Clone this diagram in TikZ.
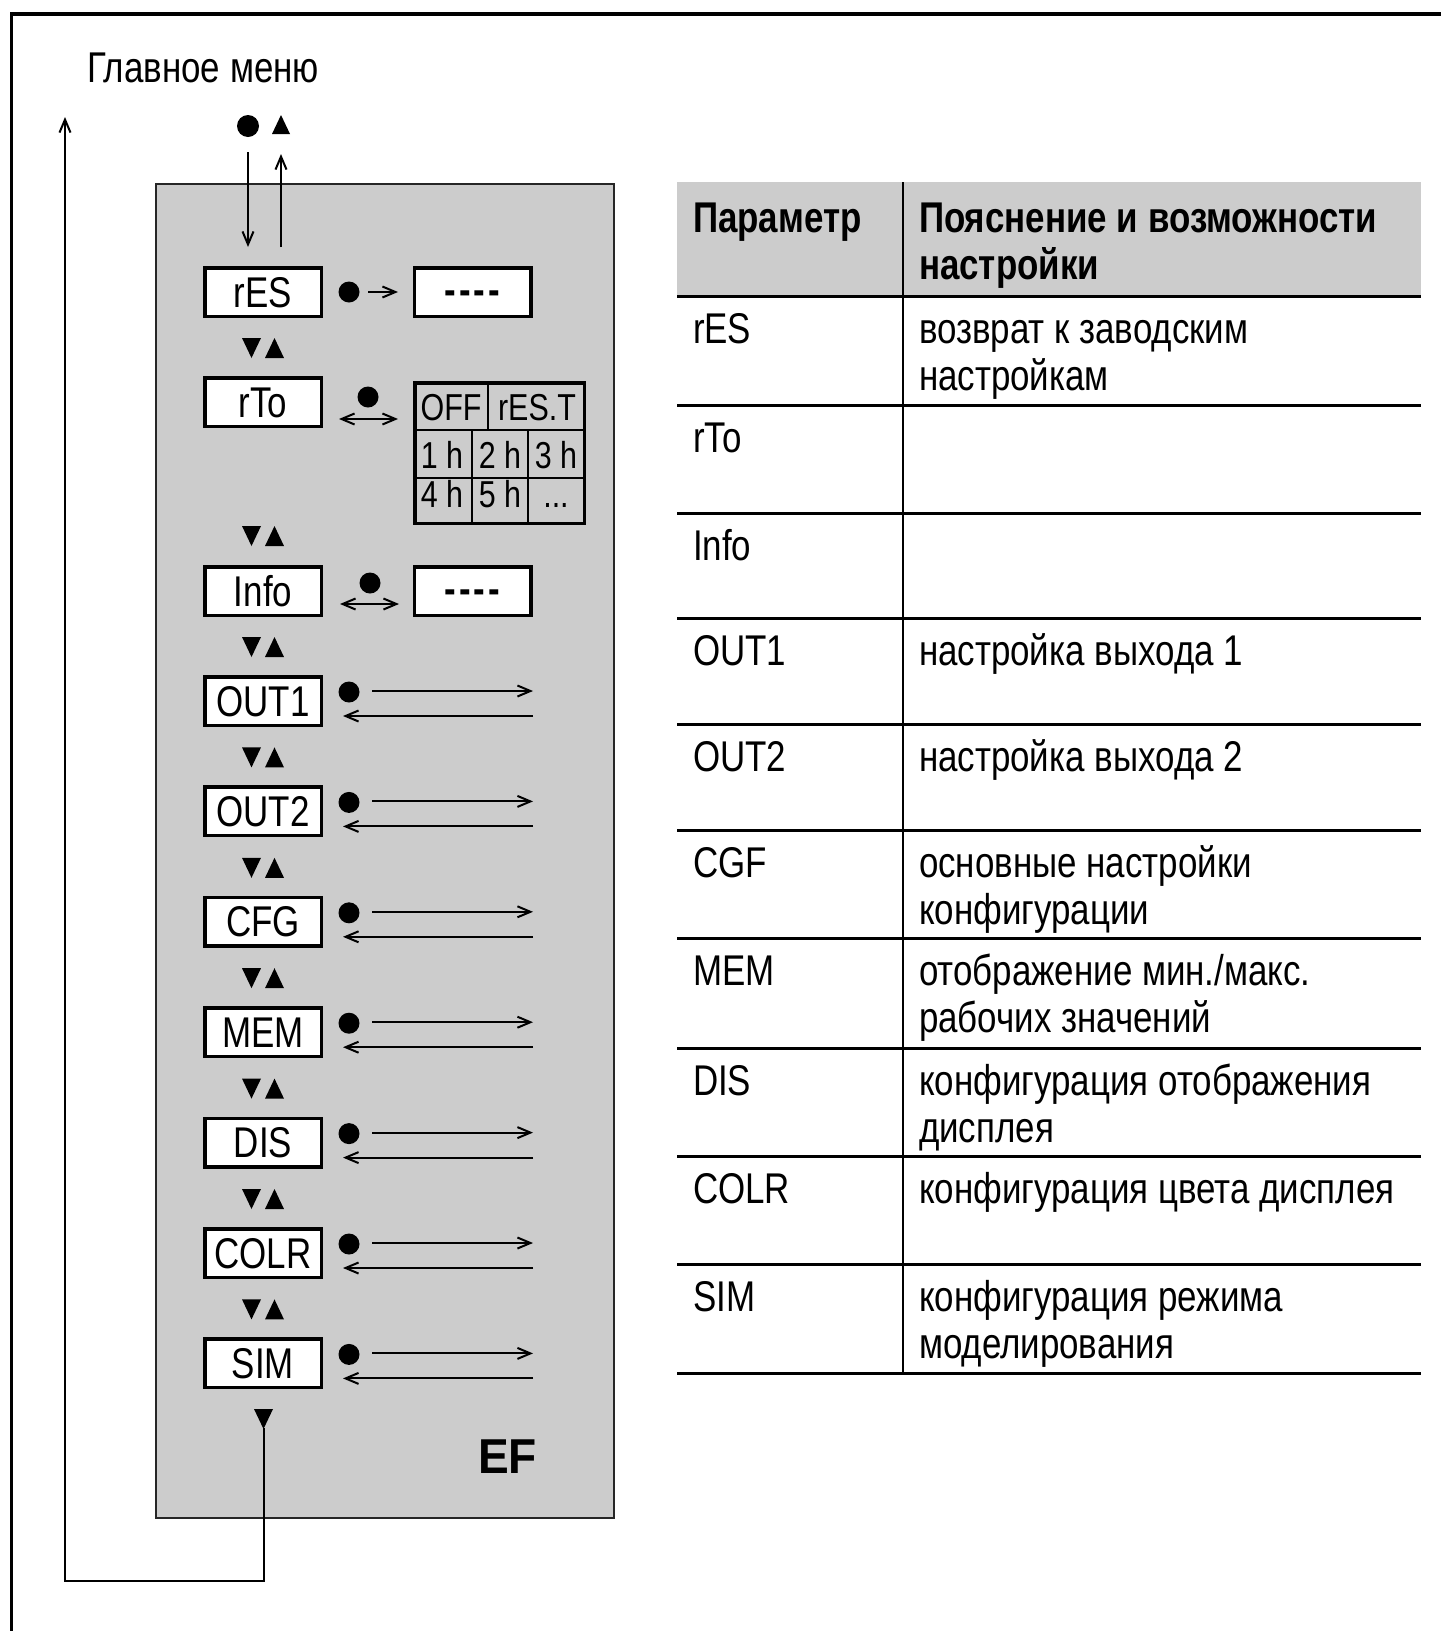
\documentclass[tikz,border=0pt]{standalone}
\usepackage{fontspec}
\setmainfont{Liberation Sans}[FakeStretch=0.812]
\newfontfamily\efFont{Liberation Sans}[FakeStretch=0.94]
\usetikzlibrary{arrows.meta}
\definecolor{panelgrey}{RGB}{204,204,204}
\definecolor{hdrgrey}{RGB}{204,204,204}
\newcommand\szA{\fontsize{43}{47}\selectfont}
\newcommand\szB{\fontsize{37.5}{40}\selectfont}
\newcommand\szC{\fontsize{43}{47}\selectfont}
\newcommand\tripair[1]{%
  \fill (242,#1) -- (261,#1) -- (251.5,#1+20) -- cycle;
  \fill (265,#1+20) -- (284,#1+20) -- (274.5,#1) -- cycle;}
\newcommand\fourdash{\raisebox{2.5pt}{-\kern3pt-\kern3pt-\kern3pt-}}
\begin{document}
\begin{tikzpicture}[x=1pt,y=-1pt,
  txt/.style={inner sep=0pt, outer sep=0pt, font=\szA, anchor=base west},
  pbox/.style={draw=black, fill=white, line width=3.5pt, minimum width=116.5pt, minimum height=48.5pt, inner sep=0pt, font=\szA, text height=30pt, text depth=0pt},
  cell/.style={inner sep=0pt, font=\szB, anchor=base},
  arr/.style={line width=2pt, -{Straight Barb[length=13pt,width=11pt]}},
  darr/.style={line width=2pt, {Straight Barb[length=13pt,width=11pt]}-{Straight Barb[length=13pt,width=11pt]}},
  loopline/.style={line width=2pt},
  tline/.style={line width=3pt},
]
\useasboundingbox (0,0) rectangle (1441,1631);
% outer frame
\draw[line width=3.5pt] (11.5,1631) -- (11.5,14) -- (1441,14);
% title
\node[txt, font=\szC] (mm) at (87,82) {Главное меню};
% grey panel
\draw[fill=panelgrey, draw=black!85, line width=1.5pt] (156,184) rectangle (614,1518);
% top symbols and arrows
\fill (248,126) circle (11);
\fill (272,134) -- (290,134) -- (281,115) -- cycle;
\coordinate (tdA) at (248,152);
\coordinate (tdB) at (248,247);
\coordinate (tuA) at (281,247);
\coordinate (tuB) at (281,154);
\draw[arr] (tdA) -- (tdB);
\draw[arr] (tuA) -- (tuB);
% rES row
\node[pbox] (res) at (263,292) {rES};
\fill (349,292) circle (10.5);
\node[pbox, font=\szA\bfseries] (resv) at (472.5,292) {\fourdash};
\coordinate (resA) at (368,292);
\coordinate (resB) at (398,292);
\draw[arr] (resA) -- (resB);
\tripair{338}
% rTo row
\node[pbox] (rto) at (263,402) {rTo};
\fill (368,397) circle (10.5);
\coordinate (rtoA) at (339,419);
\coordinate (rtoB) at (398,419);
\draw[darr] (rtoA) -- (rtoB);
\draw[line width=3.5pt] (414.75,382.75) rectangle (584.25,523.25);
\draw[line width=2pt] (413,430) -- (586,430) (413,478) -- (586,478)
  (488,381) -- (488,430) (472,430) -- (472,525) (528,430) -- (528,525);
\node[cell] (cOFF) at (451,420) {OFF};
\node[cell] (cRES) at (537,420) {rES.T};
\node[cell] (c1) at (442,468) {1 h};
\node[cell] (c2) at (500,468) {2 h};
\node[cell] (c3) at (556,468) {3 h};
\node[cell] (c4) at (442,507) {4 h};
\node[cell] (c5) at (500,507) {5 h};
\node[cell] (c6) at (556,507) {...};
\tripair{526}
% Info row
\node[pbox] (info) at (263,591) {Info};
\fill (370,583) circle (10.5);
\coordinate (infA) at (340,604);
\coordinate (infB) at (399,604);
\draw[darr] (infA) -- (infB);
\node[pbox, font=\szA\bfseries] (infov) at (472.5,591) {\fourdash};
% output rows
\foreach \nm/\lb/\t in {out1/OUT1/675, out2/OUT2/785.4, cfg/CFG/895.8, mem/MEM/1006.2, dis/DIS/1116.6, colr/COLR/1227, sim/SIM/1337.4}{
  \tripair{\t-38}
  \node[pbox] (\nm) at (263,\t+26) {\lb};
  \fill (349,\t+17) circle (10.5);
  \coordinate (\nm a) at (372,\t+16);
  \coordinate (\nm b) at (533,\t+16);
  \coordinate (\nm c) at (533,\t+41);
  \coordinate (\nm d) at (343,\t+41);
  \draw[arr] (\nm a) -- (\nm b);
  \draw[arr] (\nm c) -- (\nm d);
}
% bottom triangle and return loop
\fill (254,1409) -- (273,1409) -- (263.5,1429) -- cycle;
\coordinate (loopA) at (263.5,1428);
\coordinate (loopB) at (263.5,1581);
\coordinate (loopC) at (65,1581);
\coordinate (loopD) at (65,117);
\draw[loopline, -{Straight Barb[length=13pt,width=11pt]}] (loopA) -- (loopB) -- (loopC) -- (loopD);
% EF
\node[txt, font=\efFont\bfseries\fontsize{49}{52}\selectfont] (ef) at (478,1473) {EF};
% table
\fill[hdrgrey] (677,182) rectangle (1421,296);
\foreach \yy in {296,405,513,618,724,830,938,1048,1156,1264,1373}
  \draw[tline] (677,\yy) -- (1421,\yy);
\draw[line width=2.5pt] (903,182) -- (903,1373);
\node[txt, font=\szA\bfseries] (h1) at (693,232) {Параметр};
\node[txt, font=\szA\bfseries] (h2) at (919,232) {Пояснение и возможности};
\node[txt, font=\szA\bfseries] (h3) at (919,279) {настройки};
\node[txt] (p1) at (693,343) {rES};
\node[txt] (d1a) at (919,343) {возврат к заводским};
\node[txt] (d1b) at (919,390) {настройкам};
\node[txt] (p2) at (693,452) {rTo};
\node[txt] (p3) at (693,560) {Info};
\node[txt] (p4) at (693,665) {OUT1};
\node[txt] (d4) at (919,665) {настройка выхода 1};
\node[txt] (p5) at (693,771) {OUT2};
\node[txt] (d5) at (919,771) {настройка выхода 2};
\node[txt] (p6) at (693,877) {CGF};
\node[txt] (d6a) at (919,877) {основные настройки};
\node[txt] (d6b) at (919,924) {конфигурации};
\node[txt] (p7) at (693,985) {MEM};
\node[txt] (d7a) at (919,985) {отображение мин./макс.};
\node[txt] (d7b) at (919,1032) {рабочих значений};
\node[txt] (p8) at (693,1095) {DIS};
\node[txt] (d8a) at (919,1095) {конфигурация отображения};
\node[txt] (d8b) at (919,1142) {дисплея};
\node[txt] (p9) at (693,1203) {COLR};
\node[txt] (d9) at (919,1203) {конфигурация цвета дисплея};
\node[txt] (p10) at (693,1311) {SIM};
\node[txt] (d10a) at (919,1311) {конфигурация режима};
\node[txt] (d10b) at (919,1358) {моделирования};
\end{tikzpicture}
\end{document}
